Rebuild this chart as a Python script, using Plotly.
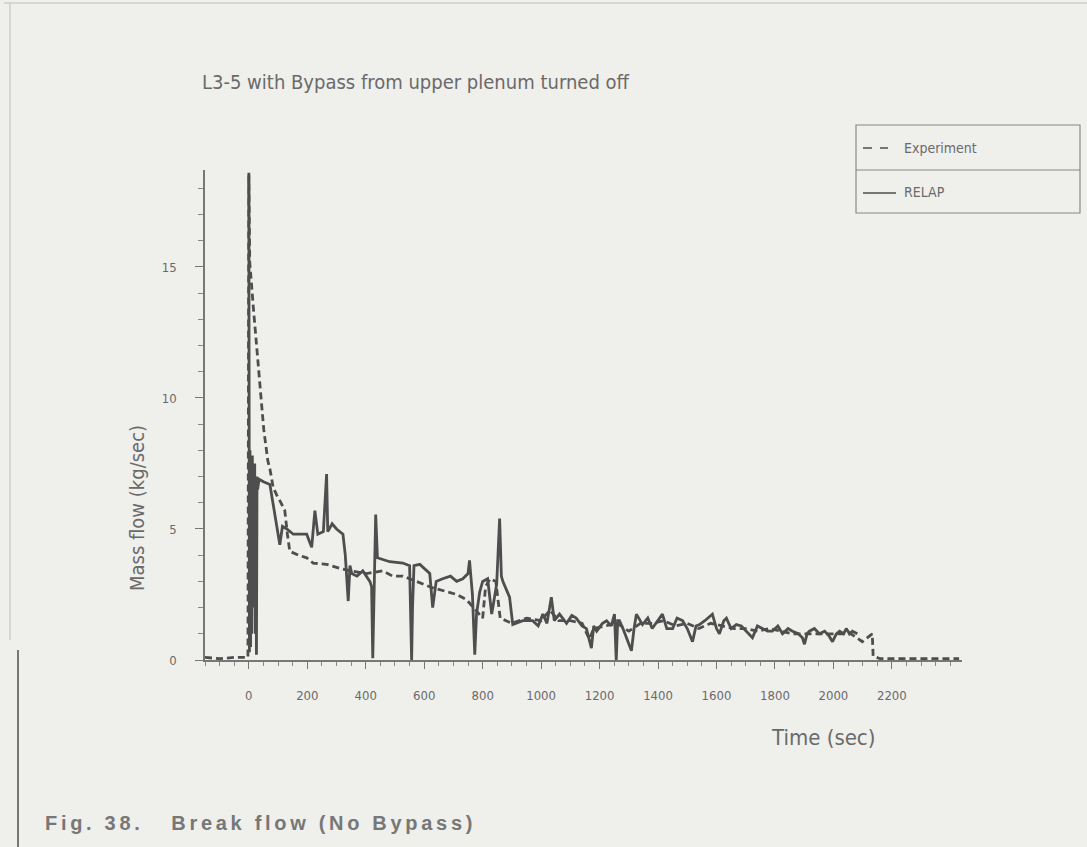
import plotly.graph_objects as go

# RELAP calculation (solid), time in s, mass flow in kg/s
relap_t = [0, 2, 4, 6, 8, 10, 12, 14, 16, 18, 20, 22, 24, 26, 28, 30, 35, 50, 72, 85,
           95, 106, 115, 130, 152, 198, 208, 215, 226, 236, 255, 266, 270, 285, 300, 322, 330, 334, 340, 346,
           352, 370, 390, 414, 420, 424, 429, 434, 440, 482, 527, 550, 554, 557, 560, 565, 585, 600, 619, 629,
           641, 663, 690, 711, 732, 750, 755, 765, 773, 779, 790, 800, 817, 831, 848, 858, 864, 869, 892, 903,
           937, 971, 990, 1006, 1020, 1035, 1045, 1063, 1087, 1105, 1120, 1140, 1155, 1172, 1180, 1190, 1210, 1224, 1240, 1251,
           1257, 1262, 1268, 1280, 1292, 1309, 1318, 1326, 1347, 1365, 1380, 1400, 1415, 1430, 1450, 1465, 1484, 1500, 1518, 1530,
           1542, 1560, 1586, 1600, 1610, 1625, 1634, 1650, 1668, 1685, 1703, 1723, 1740, 1757, 1775, 1791, 1810, 1826, 1845, 1860,
           1880, 1894, 1901, 1910, 1918, 1935, 1952, 1970, 1986, 1997, 2010, 2021, 2035, 2044, 2055, 2065, 2082]
relap_flow = [18.5, 0.3, 8.0, 0.5, 7.5, 1.0, 7.8, 2.0, 7.2, 3.0, 7.5, 1.0, 6.5, 0.2, 7.0, 6.5, 6.9, 6.8, 6.7, 5.8,
              5.2, 4.4, 5.1, 5.0, 4.8, 4.8, 4.5, 4.3, 5.7, 4.8, 4.9, 7.1, 4.9, 5.2, 5.0, 4.8, 4.0, 3.3, 2.25, 3.6,
              3.3, 3.2, 3.4, 3.0, 2.8, 0.07, 2.5, 5.55, 3.9, 3.75, 3.7, 3.6, 1.5, 0.0, 2.0, 3.6, 3.65, 3.5, 3.3, 2.0,
              3.0, 3.1, 3.2, 3.0, 3.1, 3.3, 3.8, 2.5, 0.2, 1.75, 2.6, 3.0, 3.1, 1.75, 2.9, 5.4, 3.2, 3.0, 2.4, 1.35,
              1.5, 1.5, 1.3, 1.75, 1.4, 2.4, 1.5, 1.75, 1.4, 1.7, 1.6, 1.3, 1.2, 0.45, 1.3, 1.1, 1.4, 1.5, 1.3, 1.75,
              0.0, 1.5, 1.5, 1.2, 0.85, 0.35, 1.2, 1.75, 1.35, 1.6, 1.2, 1.5, 1.75, 1.2, 1.2, 1.6, 1.5, 1.2, 0.7, 1.3,
              1.35, 1.5, 1.75, 1.2, 1.0, 1.5, 1.6, 1.2, 1.35, 1.3, 1.1, 0.85, 1.3, 1.2, 1.1, 1.1, 1.3, 1.0, 1.2, 1.1,
              1.0, 0.85, 0.6, 1.0, 1.1, 1.2, 1.0, 1.1, 0.9, 0.7, 1.0, 1.1, 1.0, 1.2, 1.0, 1.1, 1.0]

# Experiment (dashed)
exp_t = [-150, -100, -50, -3, 0, 3, 15, 31, 44, 51, 65, 72, 83, 95, 110, 123, 132, 140, 170, 198,
         220, 266, 311, 350, 403, 458, 492, 527, 550, 573, 600, 630, 680, 711, 745, 770, 790, 800, 810, 825,
         845, 860, 880, 900, 950, 1000, 1030, 1060, 1100, 1140, 1165, 1180, 1220, 1260, 1300, 1340, 1380, 1420, 1460, 1500,
         1540, 1580, 1620, 1660, 1700, 1740, 1780, 1820, 1860, 1900, 1940, 1980, 2020, 2060, 2099, 2116, 2133, 2136, 2160, 2250,
         2350, 2430]
exp_flow = [0.1, 0.05, 0.1, 0.1, 18.6, 15.2, 13.5, 11.4, 9.85, 8.8, 7.6, 7.3, 6.6, 6.3, 6.0, 5.7, 4.8, 4.15, 4.0, 3.9,
            3.7, 3.65, 3.5, 3.4, 3.3, 3.4, 3.2, 3.2, 3.1, 3.0, 2.9, 2.75, 2.6, 2.5, 2.3, 2.0, 1.75, 1.6, 2.8, 3.1,
            3.0, 1.6, 1.5, 1.4, 1.6, 1.5, 1.9, 1.5, 1.5, 1.4, 0.8, 1.2, 1.3, 1.4, 1.1, 1.4, 1.4, 1.5, 1.3, 1.4,
            1.2, 1.4, 1.3, 1.2, 1.2, 1.1, 1.2, 1.1, 1.0, 1.0, 1.0, 1.0, 1.0, 1.0, 0.7, 0.85, 1.0, 0.15, 0.05, 0.05,
            0.05, 0.05]

x_ticks = [0, 200, 400, 600, 800, 1000, 1200, 1400, 1600, 1800, 2000, 2200]
y_ticks = [0, 5, 10, 15]

BG = "#efefec"
INK = "#4e4e4e"
TXT = "#6a6a6a"
NARROW = "Liberation Sans Narrow, DejaVu Sans Condensed, Arial Narrow, sans-serif"

# plot area in pixels
L, R, T, B = 205, 962, 170, 660


def px(x):
    return (x - L) / (R - L)


def py(y):
    return (B - y) / (B - T)


fig = go.Figure()
fig.add_trace(go.Scatter(x=exp_t, y=exp_flow, mode="lines", name="Experiment",
                         line=dict(color=INK, width=2.8, dash="7px,4px"), showlegend=False))
fig.add_trace(go.Scatter(x=relap_t, y=relap_flow, mode="lines", name="RELAP",
                         line=dict(color=INK, width=2.8), showlegend=False))

fig.update_layout(
    width=1087, height=847,
    margin=dict(l=L, r=1087 - R, t=T, b=847 - B),
    paper_bgcolor=BG, plot_bgcolor=BG,
    font=dict(family=NARROW, color=TXT, size=13),
)
fig.update_xaxes(range=[-150, 2440], tickvals=x_ticks, showgrid=False, zeroline=False,
                 showline=True, linecolor="#777", linewidth=1.5,
                 ticks="outside", ticklen=7, tickcolor="#777", ticklabelstandoff=16,
                 minor=dict(dtick=50, ticks="outside", ticklen=4, tickcolor="#888"),
                 tickfont=dict(size=13, color=TXT, family=NARROW))
fig.update_yaxes(range=[0, 18.7], tickvals=y_ticks, showgrid=False, zeroline=False,
                 showline=True, linecolor="#777", linewidth=1.5,
                 ticks="outside", ticklen=8, tickcolor="#777", ticklabelstandoff=16,
                 minor=dict(dtick=1, ticks="outside", ticklen=5, tickcolor="#888"),
                 tickfont=dict(size=13, color=TXT, family=NARROW))

ann = [
    dict(text="L3-5 with Bypass from upper plenum turned off", x=px(200), y=py(82),
         xanchor="left", yanchor="middle", font=dict(size=20, family=NARROW, color=TXT)),
    dict(text="Mass flow (kg/sec)", x=px(137), y=py(508), textangle=-90,
         xanchor="center", yanchor="middle", font=dict(size=20, family=NARROW, color=TXT)),
    dict(text="Time (sec)", x=px(823), y=py(737),
         xanchor="center", yanchor="middle", font=dict(size=22, family=NARROW, color=TXT)),
    dict(text="Experiment", x=px(902), y=py(148), xanchor="left", yanchor="middle",
         font=dict(size=14, family=NARROW, color=TXT)),
    dict(text="RELAP", x=px(902), y=py(192), xanchor="left", yanchor="middle",
         font=dict(size=14, family=NARROW, color=TXT)),
    dict(text="Fig. 38.\u00a0\u00a0\u00a0Break flow (No Bypass)", x=px(43), y=py(823),
         xanchor="left", yanchor="middle", align="left",
         font=dict(size=20, family="Liberation Sans, Arial, sans-serif", color="#777", weight="bold")),
]
for a in ann:
    a.update(xref="paper", yref="paper", showarrow=False)
fig.update_layout(annotations=ann)

shapes = [
    # legend box
    dict(type="rect", x0=px(856), x1=px(1080), y0=py(213), y1=py(125), line=dict(color="#888", width=1.2)),
    dict(type="line", x0=px(856), x1=px(1080), y0=py(170), y1=py(170), line=dict(color="#888", width=1.2)),
    dict(type="line", x0=px(863), x1=px(872), y0=py(148), y1=py(148), line=dict(color=INK, width=1.5)),
    dict(type="line", x0=px(880), x1=px(888), y0=py(148), y1=py(148), line=dict(color=INK, width=1.5)),
    dict(type="line", x0=px(863), x1=px(896), y0=py(193), y1=py(193), line=dict(color=INK, width=1.5)),
    # scanned page border
    dict(type="line", x0=px(4), x1=px(1087), y0=py(3), y1=py(3), line=dict(color="#bdbdbd", width=1)),
    dict(type="line", x0=px(10), x1=px(10), y0=py(3), y1=py(640), line=dict(color="#bdbdbd", width=1)),
    dict(type="line", x0=px(18), x1=px(18), y0=py(650), y1=py(847), line=dict(color="#777", width=2)),
]
for s in shapes:
    s.update(xref="paper", yref="paper")
fig.update_layout(shapes=shapes)

js = """
document.body.style.margin = '0';
document.body.style.overflow = 'hidden';
var gd = document.querySelector('.plotly-graph-div');
gd.querySelectorAll('text.annotation-text').forEach(function(t){
  if (t.textContent.indexOf('Fig. 38.') === 0) { t.style.letterSpacing = '3.7px'; }
});
"""
fig.write_html("out.html", post_script=js, config={"displayModeBar": False})
